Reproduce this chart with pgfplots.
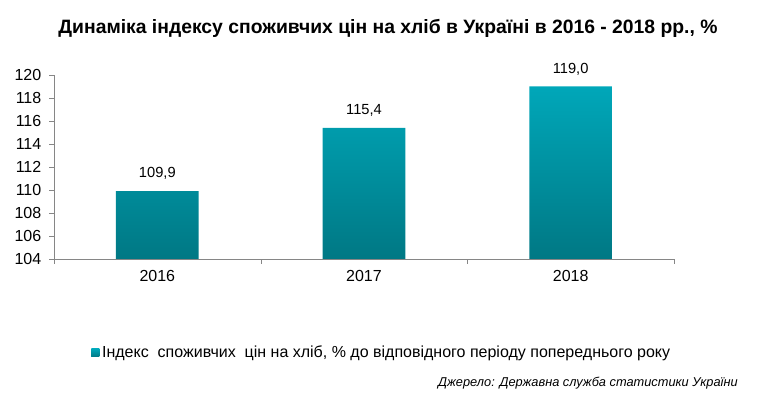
\documentclass[border=0pt]{standalone}
\usepackage{pgfplots}
\pgfplotsset{compat=1.18}
\usepackage{fontspec}
\setmainfont{Liberation Sans}
\definecolor{tealtop}{RGB}{0,167,185}
\definecolor{tealbot}{RGB}{0,120,132}
\definecolor{axgrey}{RGB}{134,134,134}
\begin{document}
\begin{tikzpicture}[x=0.75pt,y=0.75pt]
\path[use as bounding box] (0,0) rectangle (758,395);
\node[font=\bfseries\fontsize{14.5}{17}\selectfont, anchor=center] at (388,367) {Динаміка індексу споживчих цін на хліб в Україні в 2016 - 2018 рр., \%};
\begin{axis}[
  at={(40.5pt,102pt)}, anchor=south west, scale only axis,
  width=465pt, height=138pt,
  xmin=-0.5, xmax=2.5, ymin=104, ymax=120,
  y coord trafo/.code={\pgfmathparse{#1-104}},
  y coord inv trafo/.code={\pgfmathparse{#1+104}},
  axis x line=bottom, axis y line=left,
  axis line style={draw=axgrey, -},
  tick align=outside,
  major tick length=3.5pt,
  ytick={104,106,...,120},
  yticklabel={\pgfmathprintnumber[fixed,precision=0]{\tick}},
  yticklabel style={xshift=-2.5pt},
  y tick style={draw=axgrey},
  xtick={-0.5,0.5,1.5,2.5}, xticklabels={},
  x tick style={draw=axgrey},
  extra x ticks={0,1,2}, extra x tick labels={2016,2017,2018},
  extra x tick style={major tick length=0pt, xticklabel style={yshift=-5pt}},
  ticklabel style={font=\fontsize{12}{14}\selectfont, text=black},
  /pgf/number format/assume math mode=true,
  legend style={draw=none, fill=none, at={(axis description cs:0.06,-0.51)}, anchor=west, font=\fontsize{12}{14}\selectfont, inner sep=0pt},
  legend cell align=left,
  legend image code/.code={\fill[tealtop] (0pt,-3pt) rectangle (6pt,3pt);},
  clip=false,
]
\addplot[ybar, bar width=0.4, draw=none, top color=tealtop, bottom color=tealbot,
  nodes near coords, point meta=explicit symbolic,
  nodes near coords style={font=\fontsize{11}{13}\selectfont, text=black, yshift=5pt}]
  table[meta=lab] {
x y lab
0 109.9 109,9
1 115.4 115,4
2 119.0 119,0
};
\addlegendentry{Індекс\ \ споживчих\ \ цін на хліб, \%\ до відповідного періоду попереднього року}
\end{axis}
\node[font=\itshape\fontsize{9.6}{11}\selectfont, anchor=east, inner sep=0pt] at (738,12) {Джерело: Державна служба статистики України};
\end{tikzpicture}
\end{document}
